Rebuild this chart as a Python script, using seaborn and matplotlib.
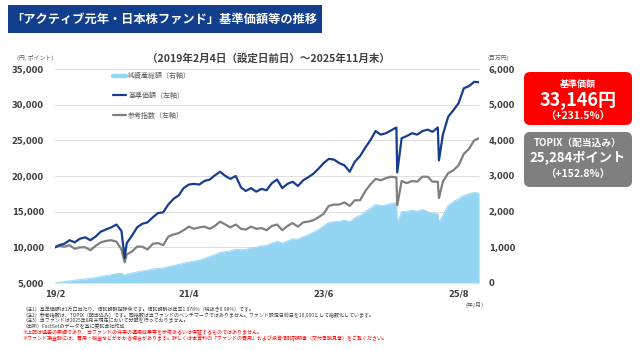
import numpy as np
import pandas as pd
import matplotlib
matplotlib.use("Agg")
import matplotlib.pyplot as plt
from matplotlib.patches import Rectangle, FancyBboxPatch
from matplotlib.lines import Line2D
import seaborn as sns

# month-end values, 2019-02 .. 2025-11
nav_monthly = [10300, 10500, 11000, 10700, 11200, 11400, 11000, 11500, 12200, 12500, 12800,
               13200, 12300, 10600, 11600, 12800, 13300, 13500, 14200, 14800, 14900, 16000, 16800,
               17300, 18300, 18800, 18900, 18800, 19300, 19500, 20100, 20600, 20000, 19600, 20000,
               18400, 17900, 18300, 17800, 18200, 18000, 19000, 19500, 18300, 18900, 19200, 18600,
               19400, 19800, 20300, 21000, 21800, 22400, 22300, 21800, 21500, 20600, 22000, 22800,
               24000, 25000, 26300, 25800, 26000, 26400, 26800, 25300, 25600, 26000, 25800, 26300,
               26500, 26200, 26800, 25800, 28300, 29200, 30200, 32300, 32600, 33200, 33146]
topix_monthly = [10200, 10100, 10300, 9800, 10000, 10000, 9600, 10200, 10700, 10900, 11000,
                 10800, 9700, 9000, 9400, 10100, 10100, 9700, 10500, 10600, 10300, 11500, 11800,
                 12000, 12400, 12900, 12600, 12800, 12900, 12600, 13000, 13600, 13200, 12800, 13200,
                 12600, 12500, 12900, 12600, 12700, 12400, 13000, 13200, 12400, 13000, 13400, 12900,
                 13500, 13600, 13800, 14200, 14700, 15800, 16000, 16000, 16300, 15800, 16600, 16600,
                 17900, 18800, 19600, 19400, 19700, 19900, 19800, 19300, 19000, 19300, 19200, 19900,
                 19900, 19200, 19200, 19200, 20400, 20800, 21500, 23100, 23800, 25000, 25284]
assets_monthly = [20, 40, 60, 75, 95, 115, 130, 150, 180, 210, 230,
                  260, 270, 250, 280, 310, 340, 360, 390, 410, 420, 460, 490,
                  520, 560, 590, 610, 640, 690, 740, 790, 860, 880, 900, 950,
                  930, 940, 990, 1000, 1040, 1050, 1120, 1170, 1120, 1180, 1240, 1230,
                  1300, 1350, 1420, 1500, 1600, 1700, 1720, 1730, 1760, 1720, 1830, 1900,
                  2000, 2100, 2200, 2170, 2190, 2230, 2260, 2000, 2010, 2040, 2010, 2060,
                  2000, 1950, 1950, 1900, 2180, 2280, 2360, 2450, 2500, 2540, 2520]

# start day and short-lived lows
extra_dates = ["2019-02-04", "2020-03-19", "2024-08-05", "2025-04-07"]
extra_nav = [10000, 8500, 20500, 22200]
extra_topix = [10000, 7900, 15900, 16900]
extra_assets = [5, 220, 1700, 1710]

tick_dates = ["2019-02-04", "2021-04-01", "2023-06-01", "2025-08-01"]
tick_labels = ["19/2", "21/4", "23/6", "25/8"]

legend_labels = ["純資産総額（右軸）", "基準価額（左軸）", "参考指数（左軸）"]

navy = "#163d8f"
grey = "#7f7f7f"
light_blue = "#93d5f3"
text_grey = "#404040"

month_ends = pd.date_range("2019-02-28", periods=len(nav_monthly), freq="ME")
month_ends = month_ends[:-1].append(pd.DatetimeIndex(["2025-11-28"]))
df = pd.DataFrame({
    "date": list(month_ends) + list(pd.to_datetime(extra_dates)),
    "nav": nav_monthly + extra_nav,
    "topix": topix_monthly + extra_topix,
    "assets": assets_monthly + extra_assets,
}).sort_values("date").reset_index(drop=True)

sns.set_theme(style="white")
plt.rcParams['font.family'] = ['Noto Sans CJK JP', 'DejaVu Sans']

fig = plt.figure(figsize=(6.4, 3.5), dpi=100)
W, H = 640, 350
ax = fig.add_axes([55 / W, 1 - 283 / H, (479 - 55) / W, (283 - 69) / H])
ax2 = ax.twinx()
ax.set_zorder(2)
ax2.set_zorder(1)
ax.patch.set_visible(False)

# net assets area (right axis)
ax2.fill_between(df["date"], 0, df["assets"], color=light_blue, lw=0, zorder=2)
sns.lineplot(data=df, x="date", y="assets", ax=ax2, color=light_blue, lw=0.6)

# NAV and reference index (left axis)
sns.lineplot(data=df, x="date", y="topix", ax=ax, color=grey, lw=1.6)
sns.lineplot(data=df, x="date", y="nav", ax=ax, color=navy, lw=1.6)

ax.set_xlim(df["date"].iloc[0], df["date"].iloc[-1])
ax.set_ylim(5000, 35000)
ax2.set_ylim(0, 6000)
ax.set_yticks(range(5000, 35001, 5000))
ax2.set_yticks(range(0, 6001, 1000))
ax.set_yticklabels([f"{v:,}" for v in range(5000, 35001, 5000)])
ax2.set_yticklabels([f"{v:,}" for v in range(0, 6001, 1000)])
ax.set_xticks(pd.to_datetime(tick_dates))
ax.set_xticklabels(tick_labels)
for a in (ax, ax2):
    a.set_xlabel("")
    a.set_ylabel("")
    for s in a.spines.values():
        s.set_visible(False)
ax2.yaxis.grid(True, color="#d9d9d9", lw=0.6)
ax2.set_axisbelow(True)
ax.grid(False)

ax.tick_params(axis="y", length=0, pad=8, labelsize=6, labelcolor=text_grey)
ax.tick_params(axis="x", length=0, pad=5, labelsize=6, labelcolor=text_grey)
ax2.tick_params(axis="y", length=0, pad=7, labelsize=6, labelcolor=text_grey)
for lbl in ax.get_yticklabels() + ax.get_xticklabels() + ax2.get_yticklabels():
    lbl.set_fontweight("bold")
    lbl.set_family("DejaVu Sans")

handles = [Line2D([], [], color=light_blue, lw=3.2),
           Line2D([], [], color=navy, lw=1.6),
           Line2D([], [], color=grey, lw=1.6)]
fig.legend(handles, legend_labels, loc="upper left", bbox_to_anchor=(113 / W, 1 - 72 / H),
           frameon=False, fontsize=5, handlelength=1.8, handletextpad=0.4,
           labelspacing=1.7, labelcolor="#595959", borderpad=0, borderaxespad=0)

# title bar
fig.add_artist(Rectangle((8 / W, 1 - 33 / H), (322 - 8) / W, 28 / H,
                         transform=fig.transFigure, color="#123e8e", lw=0))
fig.text(11 / W, 1 - 19.5 / H, "「アクティブ元年・日本株ファンド」基準価額等の推移",
         color="white", fontsize=8.8, fontweight="bold", va="center", ha="left")

fig.text(268 / W, 1 - 59 / H, "（2019年2月4日（設定日前日）～2025年11月末）",
         ha="center", va="center", fontsize=7.6, fontweight="bold", color=text_grey)
fig.text(35 / W, 1 - 58 / H, "(円, ポイント)", ha="center", va="center", fontsize=4.2, color="#595959")
fig.text(498 / W, 1 - 58 / H, "(百万円)", ha="center", va="center", fontsize=4.2, color="#595959")
fig.text(475 / W, 1 - 305 / H, "(年/月)", ha="center", va="center", fontsize=4.2, color="#595959")

# value boxes
fig.add_artist(FancyBboxPatch((5.30, 2.31), 0.96, 0.41, boxstyle="round,pad=0.06",
                              transform=fig.dpi_scale_trans, fc="#ff0000", ec="none"))
fig.add_artist(FancyBboxPatch((5.30, 1.69), 0.96, 0.43, boxstyle="round,pad=0.06",
                              transform=fig.dpi_scale_trans, fc="#7f7f7f", ec="none"))
cx = 578 / W
fig.text(cx, 1 - 84 / H, "基準価額", ha="center", va="center", color="white", fontsize=6.5, fontweight="bold")
fig.text(cx, 1 - 101 / H, "33,146円", ha="center", va="center", color="white", fontsize=13, fontweight="bold")
fig.text(cx, 1 - 117 / H, "（+231.5%）", ha="center", va="center", color="white", fontsize=7.5, fontweight="bold")
fig.text(cx, 1 - 143 / H, "TOPIX（配当込み）", ha="center", va="center", color="white", fontsize=7, fontweight="bold")
fig.text(cx, 1 - 158 / H, "25,284ポイント", ha="center", va="center", color="white", fontsize=9.5, fontweight="bold")
fig.text(cx, 1 - 175 / H, "（+152.8%）", ha="center", va="center", color="white", fontsize=7.5, fontweight="bold")

notes = [
    ("（注1）基準価額は1万口当たり、信託報酬控除後です。信託報酬は年率1.078%（税抜き0.98%）です。", text_grey),
    ("（注2）参考指数は、TOPIX（配当込み）です。同指数は当ファンドのベンチマークではありません。ファンド設定日前日を10,000として指数化しています。", text_grey),
    ("（注3）当ファンドは2025年9月末現在において分配を行っておりません。", text_grey),
    ("（出所）FactSetのデータを基に委託会社作成", text_grey),
    ("※上記は過去の実績であり、当ファンドの将来の運用成果等を示唆あるいは保証するものではありません。", "#ff0000"),
    ("※ファンド換金時には、費用・税金などがかかる場合があります。詳しくは本資料の「ファンドの費用」および投資信託説明書（交付目論見書）をご覧ください。", "#ff0000"),
]
for i, (t, c) in enumerate(notes):
    fig.text(22 / W, 1 - (309 + i * 5.8) / H, t, ha="left", va="center", fontsize=3.6, color=c)

fig.savefig("out.png", dpi=100)
